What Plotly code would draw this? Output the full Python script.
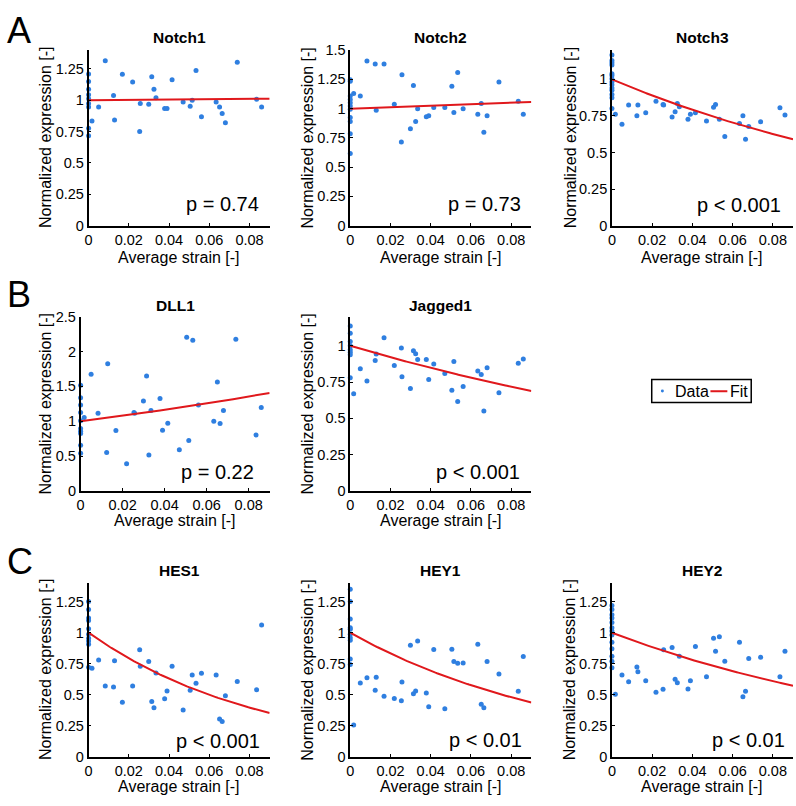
import numpy as np
import plotly.graph_objects as go

# ---------------- data ----------------
genes = ["Notch1", "Notch2", "Notch3", "DLL1", "Jagged1", "HES1", "HEY1", "HEY2"]
p_labels = ["p = 0.74", "p = 0.73", "p < 0.001", "p = 0.22", "p < 0.001",
            "p < 0.001", "p < 0.01", "p < 0.01"]
legend_labels = ["Data", "Fit"]

# average strain of the strained samples (shared by every gene)
strain = [0.0017, 0.005, 0.0083, 0.0124, 0.0129, 0.0168, 0.0219, 0.0254, 0.0257,
          0.0299, 0.0314, 0.0325, 0.0335, 0.0378, 0.039, 0.0415, 0.047, 0.0505,
          0.0515, 0.0534, 0.0561, 0.0634, 0.0651, 0.0664, 0.068, 0.0739, 0.0835,
          0.086]

# normalized expression of the unstrained controls (strain = 0)
notch1_ctrl = [1.21, 1.15, 1.087, 1.045, 1.013, 0.974, 0.947, 0.776, 0.716]
notch2_ctrl = [1.247, 1.234, 1.107, 1.079, 1.051, 1.023, 0.995, 0.925, 0.889, 0.785, 0.617]
notch3_ctrl = [1.167, 1.129, 1.113, 1.099, 1.038, 1.027, 1.005, 0.982, 0.964, 0.941,
               0.926, 0.896, 0.874, 0.801]
dll1_ctrl = [1.515, 1.337, 1.234, 1.126, 1.008, 0.896, 0.858, 0.826, 0.657, 0.539]
jagged1_ctrl = [1.136, 1.086, 1.03, 1.0, 0.973, 0.955, 0.939, 0.78]
hes1_ctrl = [1.252, 1.186, 1.119, 1.098, 1.032, 0.987, 0.955, 0.934, 0.907, 0.721]
hey1_ctrl = [1.35, 1.252, 1.111, 1.04, 1.027, 0.987, 0.96, 0.939, 0.788, 0.743]
hey2_ctrl = [1.219, 1.187, 1.145, 1.119, 1.082, 1.04, 1.013, 0.982, 0.923, 0.871,
             0.81, 0.77, 0.718]

# normalized expression of the strained samples (same order as `strain`)
notch1_vals = [0.834, 0.947, 1.316, 1.039, 0.842, 1.208, 1.145, 0.75, 0.974, 0.968,
               1.187, 1.087, 1.021, 0.934, 0.934, 1.163, 0.987, 0.953, 1.0, 1.237,
               0.868, 0.987, 0.947, 0.895, 0.821, 1.303, 1.008, 0.947]
notch2_vals = [1.13, 1.107, 1.407, 1.382, 0.987, 1.382, 1.037, 0.715, 1.29, 0.827,
               1.197, 0.889, 1.0, 0.931, 0.939, 1.009, 1.009, 1.191, 0.967, 1.309,
               1.0, 0.953, 1.043, 0.799, 0.939, 1.228, 1.063, 0.953]
notch3_vals = [0.761, 0.693, 0.824, 0.752, 0.824, 0.772, 0.851, 0.828, 0.824, 0.743,
               0.779, 0.835, 0.813, 0.727, 0.761, 0.772, 0.716, 0.81, 0.828, 0.727,
               0.609, 0.698, 0.752, 0.591, 0.677, 0.711, 0.806, 0.756]
dll1_vals = [1.055, 1.674, 1.116, 0.553, 1.824, 0.868, 0.389, 1.126, 1.116, 1.29,
             1.651, 0.516, 1.154, 1.327, 0.872, 0.971, 0.591, 2.204, 0.722, 2.162,
             1.234, 0.999, 1.562, 0.966, 1.154, 2.176, 0.802, 1.196]
jagged1_vals = [0.67, 0.841, 0.757, 0.898, 0.943, 1.055, 0.864, 0.984, 0.786, 0.705,
                0.966, 0.945, 0.905, 0.905, 0.768, 0.875, 0.809, 0.693, 0.891, 0.616,
                0.72, 0.827, 0.802, 0.55, 0.848, 0.677, 0.88, 0.909]
hes1_vals = [0.714, 0.78, 0.57, 0.562, 0.775, 0.44, 0.57, 0.862, 0.729, 0.769,
             0.446, 0.395, 0.676, 0.467, 0.531, 0.729, 0.377, 0.536, 0.66, 0.592,
             0.674, 0.66, 0.305, 0.284, 0.493, 0.607, 0.541, 1.062]
hey1_vals = [0.257, 0.594, 0.637, 0.536, 0.642, 0.488, 0.469, 0.451, 0.602, 0.899,
             0.509, 0.531, 0.934, 0.515, 0.403, 0.865, 0.387, 0.867, 0.767, 0.753,
             0.756, 0.907, 0.424, 0.395, 0.767, 0.668, 0.528, 0.809]
hey2_vals = [0.504, 0.66, 0.604, 0.723, 0.686, 0.612, 0.52, 0.544, 0.863, 0.881,
             0.625, 0.596, 0.81, 0.546, 0.612, 0.889, 0.646, 0.955, 0.85, 0.968,
             0.77, 0.923, 0.485, 0.528, 0.792, 0.802, 0.646, 0.85]

# exponential fit: value of the fit curve at strain = 0.09 (fit is 1 at strain 0)
fit_at_009 = [1.013, 1.057, 0.591, 1.407, 0.689, 0.353, 0.438, 0.573]

y_max = [1.4, 1.5, 1.2, 2.5, 1.2, 1.4, 1.4, 1.4]
y_ticks = [
    [0, 0.25, 0.5, 0.75, 1, 1.25],
    [0, 0.25, 0.5, 0.75, 1, 1.25, 1.5],
    [0, 0.25, 0.5, 0.75, 1],
    [0, 0.5, 1, 1.5, 2, 2.5],
    [0, 0.25, 0.5, 0.75, 1],
    [0, 0.25, 0.5, 0.75, 1, 1.25],
    [0, 0.25, 0.5, 0.75, 1, 1.25],
    [0, 0.25, 0.5, 0.75, 1, 1.25],
]
x_ticks = [0, 0.02, 0.04, 0.06, 0.08]
x_max = 0.09

ctrl = [notch1_ctrl, notch2_ctrl, notch3_ctrl, dll1_ctrl, jagged1_ctrl,
        hes1_ctrl, hey1_ctrl, hey2_ctrl]
vals = [notch1_vals, notch2_vals, notch3_vals, dll1_vals, jagged1_vals,
        hes1_vals, hey1_vals, hey2_vals]

# ---------------- layout geometry (pixels) ----------------
W, H = 796, 806
# (left, right, top, bottom) of each axes box
geom = [(85, 267, 43, 222), (348, 530, 43, 222), (611, 793, 43, 222),
        (77, 267, 315, 492.7), (348, 530, 315, 492.7),
        (85, 267, 586.7, 764), (348, 530, 586.7, 764), (611, 793, 586.7, 764)]
ytitle_off = [42.5, 42.5, 41.5, 35, 42.5, 42.5, 42.5, 41.5]
xtitle_off = [32, 32, 32, 30, 30, 30, 30, 30]
title_off = [12.5, 12.5, 12.5, 11.5, 11.5, 12.7, 12.7, 12.7]
p_right = [9, 8, 10, 14, 9, 8, 7, 6]
p_up = [22, 22, 21, 19.4, 18.7, 16, 17, 17]

FONT = "Liberation Sans, Arial, Helvetica, sans-serif"
BLUE = "#2f7fe0"
RED = "#e0181c"

def px(x):
    return x / W

def py(y):
    return 1 - y / H

fig = go.Figure()
layout = dict(
    width=W, height=H,
    margin=dict(l=0, r=0, t=0, b=0),
    paper_bgcolor="white", plot_bgcolor="white",
    font=dict(family=FONT, color="black", size=14.5),
    showlegend=False,
)
annotations = []
shapes = []

def fmt(v):
    return f"{v:g}"

xfit = np.linspace(0, x_max, 120)
for i, g in enumerate(genes):
    n = i + 1
    xa = "x" if n == 1 else f"x{n}"
    ya = "y" if n == 1 else f"y{n}"
    l, r, t, b = geom[i]
    xs = [0.0] * len(ctrl[i]) + strain
    ys = ctrl[i] + vals[i]
    fig.add_trace(go.Scatter(
        x=xs, y=ys, mode="markers", name=legend_labels[0],
        marker=dict(color=BLUE, size=5, line=dict(width=0)),
        cliponaxis=False, xaxis=xa, yaxis=ya))
    k = np.log(fit_at_009[i]) / x_max
    fig.add_trace(go.Scatter(
        x=xfit, y=np.exp(k * xfit), mode="lines", name=legend_labels[1],
        line=dict(color=RED, width=2), xaxis=xa, yaxis=ya))

    axis_common = dict(showline=True, linecolor="black", linewidth=1.5,
                       mirror=False, showgrid=False, zeroline=False,
                       ticks="inside", ticklen=3, tickwidth=1, tickcolor="black",
                       tickfont=dict(size=14.5, family=FONT, color="black"))
    layout["xaxis" if n == 1 else f"xaxis{n}"] = dict(
        domain=[px(l), px(r)], range=[0, x_max], anchor=ya,
        tickvals=x_ticks, ticktext=[fmt(v) for v in x_ticks], **axis_common)
    layout["yaxis" if n == 1 else f"yaxis{n}"] = dict(
        domain=[py(b), py(t)], range=[0, y_max[i]], anchor=xa,
        tickvals=y_ticks[i], ticktext=[fmt(v) for v in y_ticks[i]],
        **axis_common)

    xd, yd = f"{xa} domain", f"{ya} domain"
    annotations.append(dict(text=f"<b>{g}</b>", xref=xd, yref=yd, x=0.5, y=1,
                            yshift=title_off[i], xanchor="center", yanchor="middle",
                            showarrow=False, font=dict(size=15.5, family=FONT)))
    annotations.append(dict(text="Average strain [-]", xref=xd, yref=yd, x=0.5, y=0,
                            yshift=-xtitle_off[i], xanchor="center", yanchor="middle",
                            showarrow=False, font=dict(size=16, family=FONT)))
    annotations.append(dict(text="Normalized expression [-]", xref=xd, yref=yd,
                            x=0, y=0.5, xshift=-ytitle_off[i], textangle=-90,
                            xanchor="center", yanchor="middle", showarrow=False,
                            font=dict(size=16, family=FONT)))
    annotations.append(dict(text=p_labels[i], xref=xd, yref=yd, x=1, y=0,
                            xshift=-p_right[i], yshift=p_up[i], xanchor="right",
                            yanchor="middle", showarrow=False,
                            font=dict(size=20, family=FONT)))

# panel letters
for letter, cy in [("A", 23), ("B", 292.5), ("C", 564.5)]:
    annotations.append(dict(text=letter, xref="paper", yref="paper", x=px(1),
                            y=py(cy), xanchor="left", yanchor="middle",
                            showarrow=False, font=dict(size=36, family=FONT)))

# legend box (MATLAB style, compact)
shapes.append(dict(type="rect", xref="paper", yref="paper",
                   x0=px(651), x1=px(751), y0=py(402.5), y1=py(379),
                   line=dict(color="black", width=1.5), fillcolor="white"))
shapes.append(dict(type="circle", xref="paper", yref="paper",
                   x0=px(660.2), x1=px(663.2), y0=py(392.3), y1=py(389.3),
                   line=dict(width=0), fillcolor=BLUE))
shapes.append(dict(type="line", xref="paper", yref="paper",
                   x0=px(710), x1=px(727), y0=py(391), y1=py(391),
                   line=dict(color=RED, width=2)))
annotations.append(dict(text=legend_labels[0], xref="paper", yref="paper",
                        x=px(672), y=py(391), xanchor="left", yanchor="middle",
                        showarrow=False, font=dict(size=16, family=FONT)))
annotations.append(dict(text=legend_labels[1], xref="paper", yref="paper",
                        x=px(727.5), y=py(391), xanchor="left", yanchor="middle",
                        showarrow=False, font=dict(size=16, family=FONT)))

layout["annotations"] = annotations
layout["shapes"] = shapes
fig.update_layout(**layout)
fig.write_html("out.html", config={"displayModeBar": False},
               post_script="document.body.style.margin='0';"
                           "document.body.style.overflow='hidden';")
